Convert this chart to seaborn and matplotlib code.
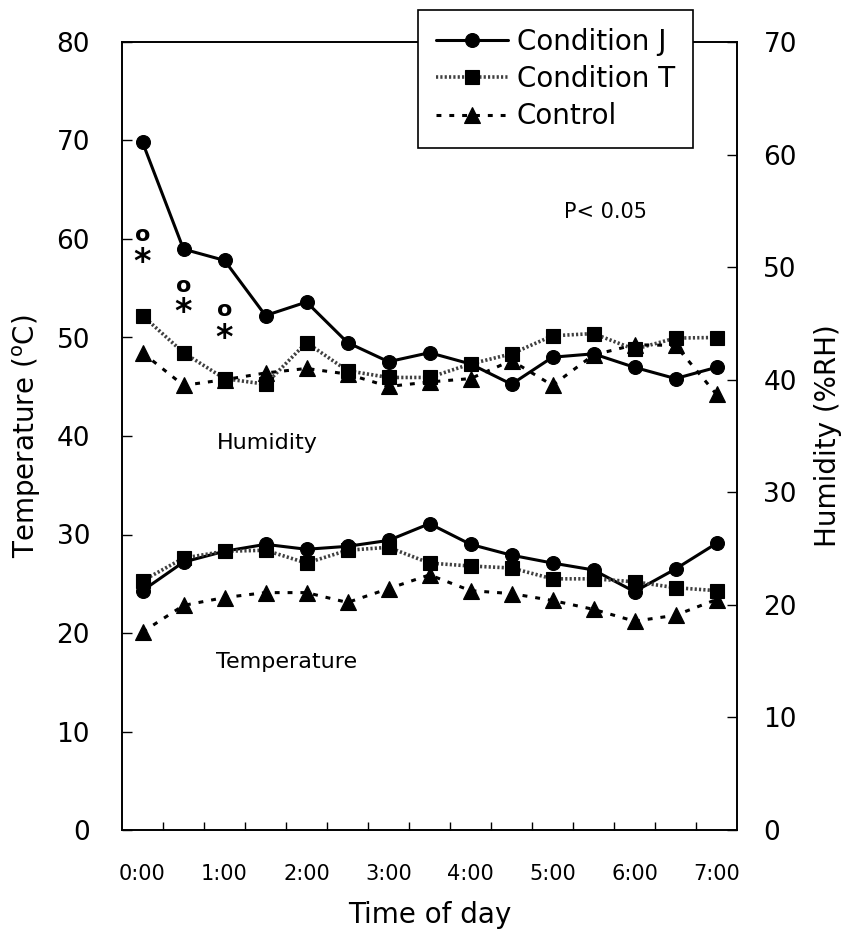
import numpy as np
import pandas as pd
import matplotlib
matplotlib.use("Agg")
import matplotlib.pyplot as plt
import seaborn as sns

# ---- data ----
times = ["0:00", "0:30", "1:00", "1:30", "2:00", "2:30", "3:00", "3:30",
         "4:00", "4:30", "5:00", "5:30", "6:00", "6:30", "7:00"]
tick_labels = ["0:00", "1:00", "2:00", "3:00", "4:00", "5:00", "6:00", "7:00"]

# humidity (%RH, right axis)
hum_J = [61.1, 51.6, 50.6, 45.7, 46.9, 43.3, 41.6, 42.4, 41.4, 39.6, 42.0, 42.3, 41.1, 40.1, 41.1]
hum_T = [45.7, 42.4, 40.1, 39.6, 43.3, 40.8, 40.2, 40.2, 41.4, 42.3, 43.9, 44.1, 42.7, 43.7, 43.75]
hum_C = [42.4, 39.5, 40.0, 40.6, 41.0, 40.5, 39.4, 39.8, 40.1, 41.7, 39.5, 42.2, 43.1, 43.05, 38.7]

# temperature (deg C, left axis)
temp_J = [24.3, 27.2, 28.3, 29.0, 28.5, 28.8, 29.4, 31.1, 29.0, 27.9, 27.1, 26.4, 24.2, 26.5, 29.1]
temp_T = [25.3, 27.6, 28.3, 28.4, 27.1, 28.4, 28.7, 27.1, 26.8, 26.6, 25.5, 25.5, 25.2, 24.6, 24.3]
temp_C = [20.1, 22.8, 23.6, 24.1, 24.1, 23.1, 24.5, 25.9, 24.3, 24.0, 23.3, 22.4, 21.2, 21.8, 23.4]

series_names = ["Condition J", "Condition T", "Control"]

# significance marks (left-axis units)
sig_times = ["0:00", "0:30", "1:00"]
sig_circle = [60.4, 55.2, 52.8]
sig_star = [57.6, 52.5, 49.9]

# ---- style ----
sns.set_theme(style="white")
plt.rcParams["font.family"] = ["DejaVu Sans"]
plt.rcParams.update({"text.color": "black", "axes.labelcolor": "black",
                     "xtick.color": "black", "ytick.color": "black"})

styles = {
    "Condition J": dict(color="black", linestyle="-", linewidth=2.2, marker="o", markersize=10),
    "Condition T": dict(color="0.25", linestyle=(0, (0.6, 0.6)), linewidth=2.6, marker="s", markersize=9.5),
    "Control": dict(color="black", linestyle=(0, (1.6, 2.6)), linewidth=2.2, marker="^", markersize=11),
}

fig = plt.figure(figsize=(8.44, 9.35), dpi=100)
ax = fig.add_axes([122 / 844, 1 - 830 / 935, (737 - 122) / 844, (830 - 42) / 935])
ax2 = ax.twinx()

pos = np.arange(len(times))
idx = {t: i for i, t in enumerate(times)}

hum_df = pd.DataFrame({"x": np.tile(pos, 3),
                       "y": hum_J + hum_T + hum_C,
                       "series": np.repeat(series_names, len(times))})
temp_df = pd.DataFrame({"x": np.tile(pos, 3),
                        "y": temp_J + temp_T + temp_C,
                        "series": np.repeat(series_names, len(times))})

handles = []
for name in series_names:
    st = styles[name]
    kw = dict(color=st["color"], linestyle=st["linestyle"], linewidth=st["linewidth"],
              marker=st["marker"], markersize=st["markersize"],
              markerfacecolor="black", markeredgecolor="black", markeredgewidth=0.8)
    sns.lineplot(data=hum_df[hum_df.series == name], x="x", y="y", ax=ax2,
                 sort=False, estimator=None, legend=False, **kw)
    sns.lineplot(data=temp_df[temp_df.series == name], x="x", y="y", ax=ax,
                 sort=False, estimator=None, legend=False, **kw)
    handles.append(ax.lines[-1])

ax.set_xlim(-0.5, len(times) - 0.5)
ax.set_ylim(0, 80)
ax2.set_ylim(0, 70)
ax.set_yticks(np.arange(0, 81, 10))
ax2.set_yticks(np.arange(0, 71, 10))

ax.set_xticks([idx[t] for t in tick_labels])
ax.set_xticklabels(tick_labels)
ax.set_xticks(np.arange(0.5, len(times) - 1, 1.0), minor=True)

ax.tick_params(axis="x", which="major", length=0, labelsize=15, pad=24.5)
ax.tick_params(axis="x", which="minor", direction="in", length=6, width=1, bottom=True, top=False, color="black")
ax.tick_params(axis="y", which="major", direction="in", length=7, width=1, labelsize=19, pad=23, left=True, color="black")
ax2.tick_params(axis="y", which="major", direction="in", length=7, width=1, labelsize=19, pad=19, right=True, color="black")
ax.grid(False)
ax2.grid(False)

for a in (ax, ax2):
    for sp in a.spines.values():
        sp.set_color("black")
        sp.set_linewidth(1.2)
        sp.set_visible(True)

ax.set_xlabel("Time of day", fontsize=20, labelpad=12)
ax.set_ylabel(r"Temperature ($\mathregular{^{o}}$C)", fontsize=20, labelpad=10)
ax2.set_ylabel("Humidity (%RH)", fontsize=20, labelpad=12, rotation=90)
ax.set_facecolor("none")

# significance marks
for t, yc, ys in zip(sig_times, sig_circle, sig_star):
    ax.text(idx[t], yc, "o", fontsize=16, ha="center", va="center", fontweight="bold")
    ax.text(idx[t], ys, "*", fontsize=24, ha="center", va="center", fontweight="bold")

ax.text(0.718, 0.784, "P< 0.05", transform=ax.transAxes, fontsize=15, ha="left", va="center")
ax.text(1.82, 39.3, "Humidity", fontsize=16, ha="left", va="center")
ax.text(1.79, 17.1, "Temperature", fontsize=16, ha="left", va="center")

leg = fig.legend(handles, series_names, loc="upper right",
                 bbox_to_anchor=(693 / 844, 1 - 10 / 935), fontsize=20,
                 frameon=True, fancybox=False, framealpha=1, edgecolor="black",
                 handlelength=2.6, handletextpad=0.3, labelspacing=0.33,
                 borderpad=0.65, borderaxespad=0)
leg.get_frame().set_linewidth(1.2)

fig.savefig("out.png", dpi=100)
